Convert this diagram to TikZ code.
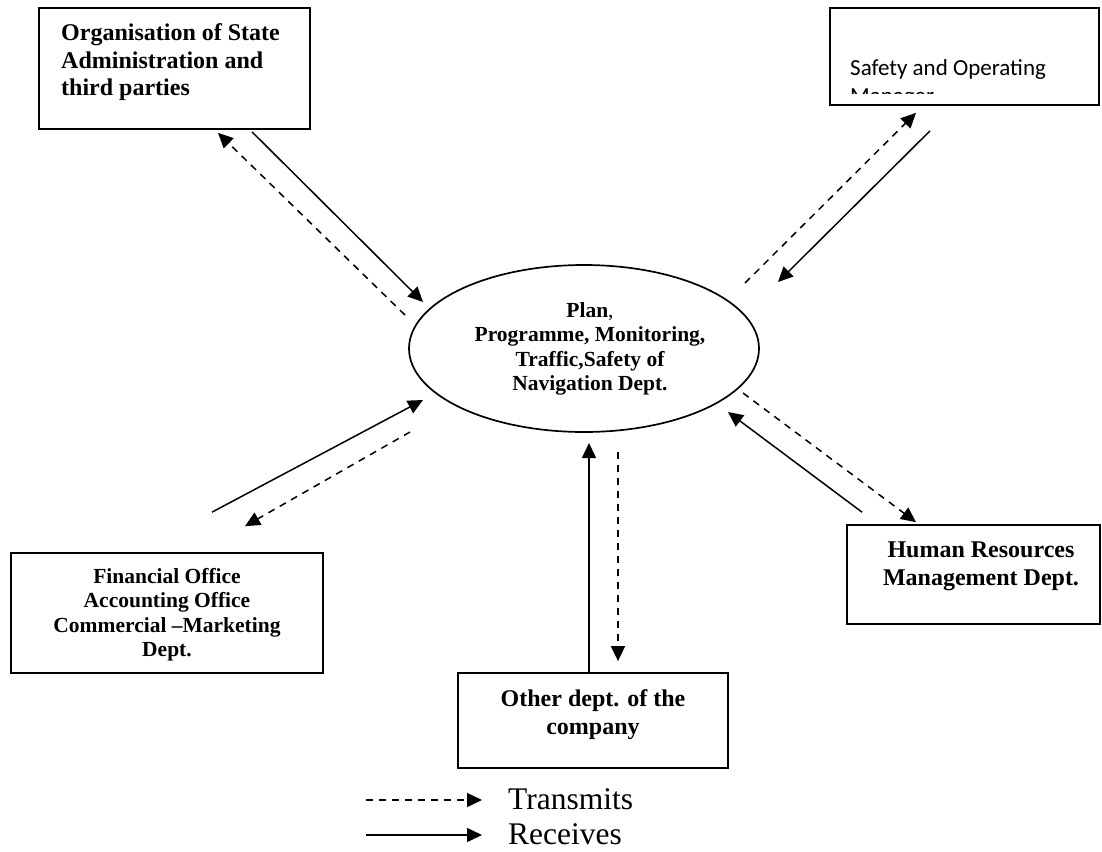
\documentclass[tikz,border=0pt]{standalone}
\usepackage{fontspec}
\setmainfont{Liberation Serif}
\newfontfamily\calibrifont{Carlito}
\usetikzlibrary{arrows.meta,shapes.geometric}

\begin{document}
\begin{tikzpicture}[x=1pt,y=-1pt,
		unitbox/.style={draw,line width=1.7pt,inner sep=0pt},
		bigtxt/.style={font=\bfseries\fontsize{24}{27.5}\selectfont,inner sep=0pt},
		smalltxt/.style={font=\bfseries\fontsize{21.5}{24.5}\selectfont,inner sep=0pt,align=center},
		recv/.style={line width=1.5pt,-{Triangle[length=15pt,width=14pt]}},
		trans/.style={recv,dash pattern=on 7pt off 6pt},
	]
	\useasboundingbox (0,0) rectangle (1102,851);

	\node[unitbox,ellipse,minimum width=350,minimum height=167] (plan) at (584,348.5) {};
	\node[smalltxt,anchor=north] (plantxt) at (590,302) {Plan\textmd{,}\\Programme, Monitoring,\\Traffic,Safety of\\Navigation Dept.};

	\node[unitbox,minimum width=271,minimum height=121] (org) at (174.5,68.5) {};
	\node[bigtxt,align=left,anchor=north west] (orgtxt) at (61,23.5) {Organisation of State\\Administration and\\third parties};

	\node[unitbox,minimum width=269,minimum height=97] (safety) at (964.5,56.5) {};
	\begin{scope}
		\clip (830,8) rectangle (1099,93);
		\node[inner sep=0pt,align=left,anchor=north west,font=\calibrifont\fontsize{23}{28}\selectfont] (safetytxt) at (850,59) {Safety and Operating\\Manager};
	\end{scope}

	\node[unitbox,minimum width=312,minimum height=120] (fin) at (167,613) {};
	\node[smalltxt,anchor=north] (fintxt) at (167,568) {Financial Office\\Accounting Office\\Commercial \textendash Marketing\\Dept.};

	\node[unitbox,minimum width=270,minimum height=95] (other) at (593,720.5) {};
	\node[bigtxt,align=center,anchor=north] (othertxt) at (593,689.5) {Other dept. of the\\company};

	\node[unitbox,minimum width=253,minimum height=99] (hr) at (973.5,574.5) {};
	\node[bigtxt,align=center,anchor=north] (hrtxt) at (981,542) {Human Resources\\Management Dept.};

	\draw[recv] ([shift={(77.5,2)}]org.south) -- ([shift={(-161,-46.5)}]plan.center);
	\draw[trans] ([shift={(-179,-33.5)}]plan.center) -- ([shift={(43.5,3)}]org.south);

	\draw[trans] ([shift={(161,-65.5)}]plan.center) -- ([shift={(-48.5,7)}]safety.south);
	\draw[recv] ([shift={(-34.5,25)}]safety.south) -- ([shift={(194,-66.5)}]plan.center);

	\draw[recv] ([shift={(45,-40)}]fin.north) -- ([shift={(-161,51.5)}]plan.center);
	\draw[trans] ([shift={(-174,83.5)}]plan.center) -- ([shift={(78,-26)}]fin.north);

	\draw[recv] ([xshift=-4pt]other.north) -- ([shift={(5,94.5)}]plan.center);
	\draw[trans] ([shift={(34,103.5)}]plan.center) -- ([shift={(25,-11)}]other.north);

	\draw[trans] ([shift={(159,44.5)}]plan.center) -- ([shift={(-57.5,-2)}]hr.north);
	\draw[recv] ([shift={(-111.5,-12)}]hr.north) -- ([shift={(144,63.5)}]plan.center);

	\node[inner sep=0pt,anchor=base west,font=\fontsize{31.5}{36}\selectfont] (transtxt) at (508,809) {Transmits};
	\node[inner sep=0pt,anchor=base west,font=\fontsize{31.5}{36}\selectfont] (recvtxt) at (508,844) {Receives};
	\coordinate (transfrom) at (366,800);
	\coordinate (recvfrom) at (366,835);
	\draw[trans] (transfrom) -- ([shift={(-26,-9)}]transtxt.base west);
	\draw[recv] (recvfrom) -- ([shift={(-26,-9)}]recvtxt.base west);
\end{tikzpicture}
\end{document}
